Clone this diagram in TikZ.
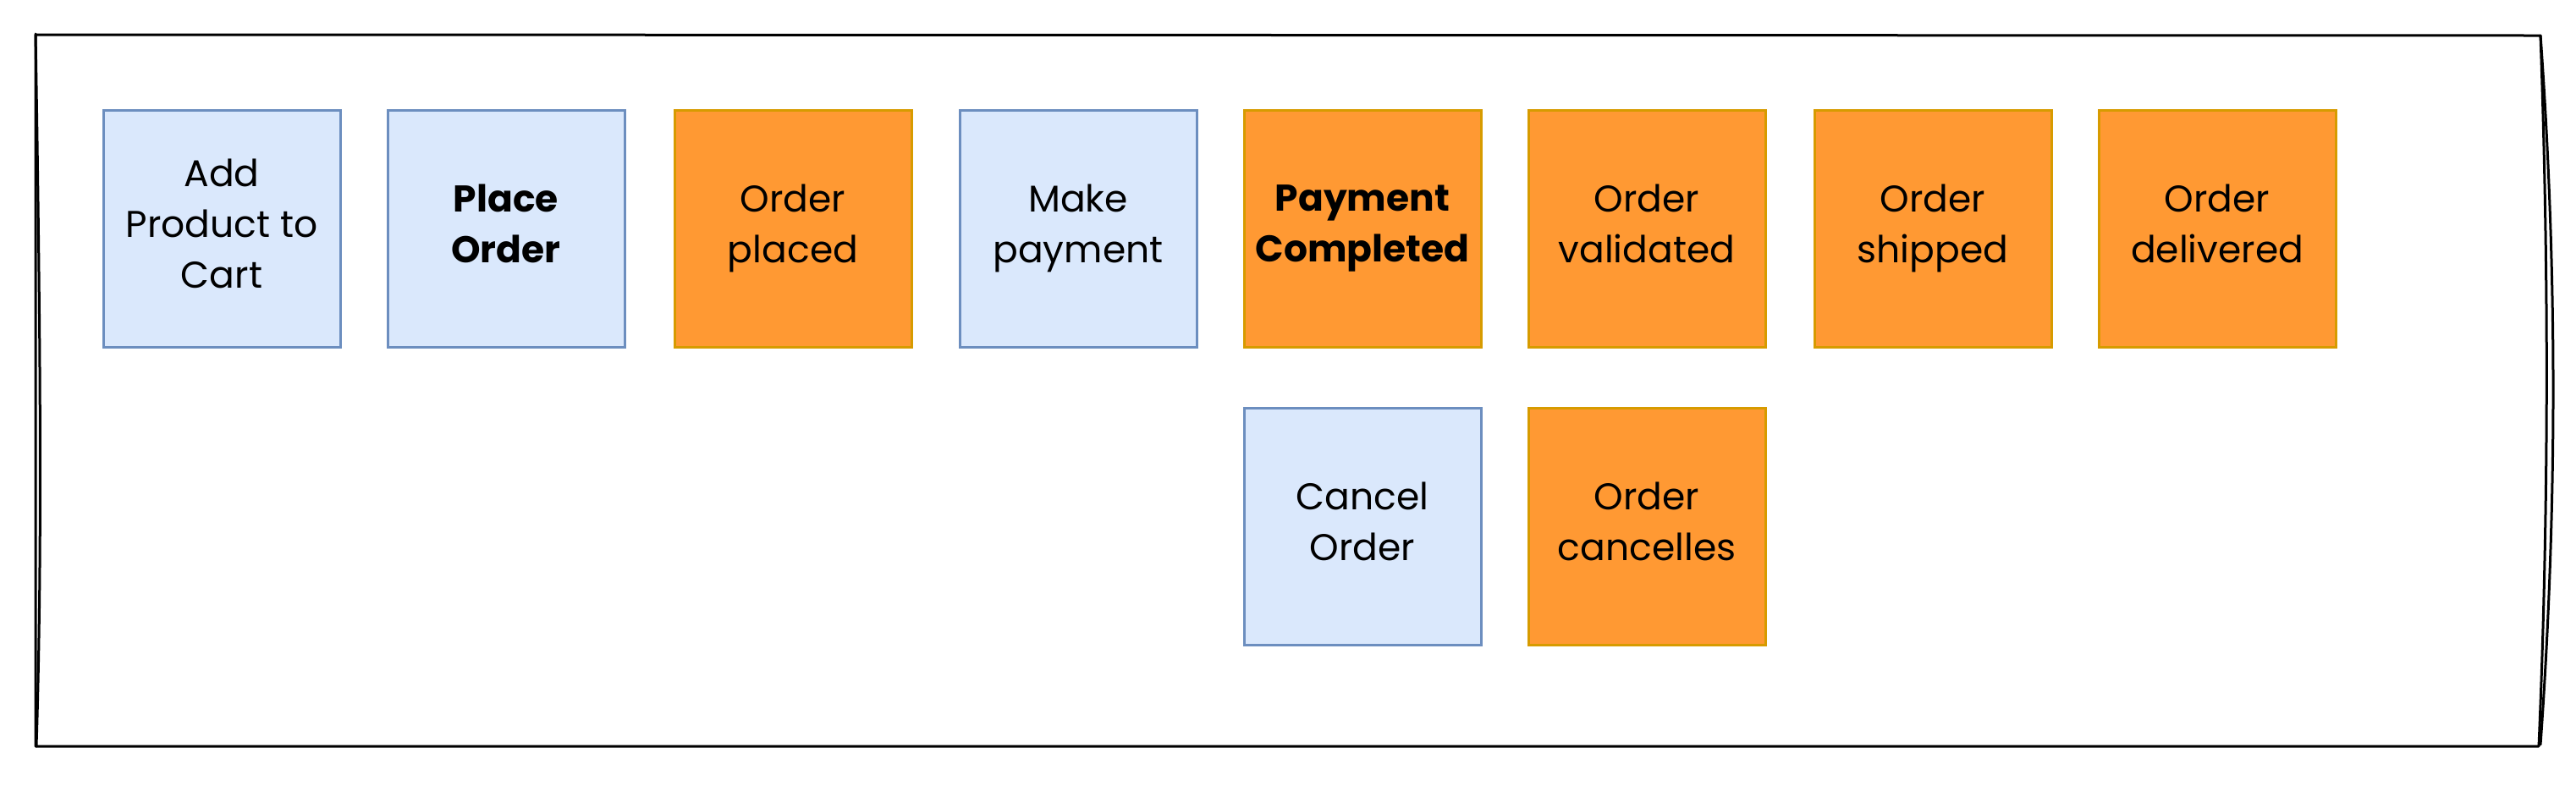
\documentclass[tikz,border=0pt]{standalone}
\usepackage{fontspec}
\setmainfont{Poppins}
\usepackage{xcolor}
\usepackage{tikz}
\definecolor{cmdfill}{HTML}{DAE8FC}
\definecolor{cmdline}{HTML}{6C8EBF}
\definecolor{evtfill}{HTML}{FF9933}
\definecolor{evtline}{HTML}{D79B00}
\tikzset{
  card/.style={rectangle, line width=1.5pt, minimum width=140pt, minimum height=140pt, inner sep=0pt, align=center,
    font=\fontsize{22}{30}\selectfont,
    execute at begin node=\rule{0pt}{24pt}, execute at end node=\rule[-6pt]{0pt}{6pt}},
  cmd/.style={card, draw=cmdline, fill=cmdfill},
  evt/.style={card, draw=evtline, fill=evtfill},
  frame/.style={draw=black, line width=1.5pt, line cap=round, line join=round},
}
\begin{document}
\begin{tikzpicture}[x=1pt,y=1pt]
  \useasboundingbox (0,0) rectangle (1522,-464);
  % sketchy outer frame
  \draw[frame] (21,-20.5) -- (1501,-21) .. controls (1506,-160) and (1506,-300) .. (1500,-441) -- (21,-441) -- cycle;
  \draw[frame] (21,-20) .. controls (24,-200) and (25,-330) .. (21.5,-441);
  \draw[frame] (1501,-21) .. controls (1511,-160) and (1511,-300) .. (1501,-440);
  % top row
  \node[cmd] (addcart) at (131,-135) {Add\\Product to\\Cart};
  \node[cmd] (placeorder) at (299,-135) {\textbf{Place}\\\textbf{Order}};
  \node[evt] (placed) at (468.5,-135) {Order\\placed};
  \node[cmd] (makepay) at (637,-135) {Make\\payment};
  \node[evt] (paydone) at (805,-135) {\textbf{Payment}\\\textbf{Completed}};
  \node[evt] (validated) at (973,-135) {Order\\validated};
  \node[evt] (shipped) at (1142,-135) {Order\\shipped};
  \node[evt] (delivered) at (1310,-135) {Order\\delivered};
  % bottom row
  \node[cmd] (cancel) at (805,-311) {Cancel\\Order};
  \node[evt] (cancelled) at (973,-311) {Order\\cancelles};
\end{tikzpicture}
\end{document}
